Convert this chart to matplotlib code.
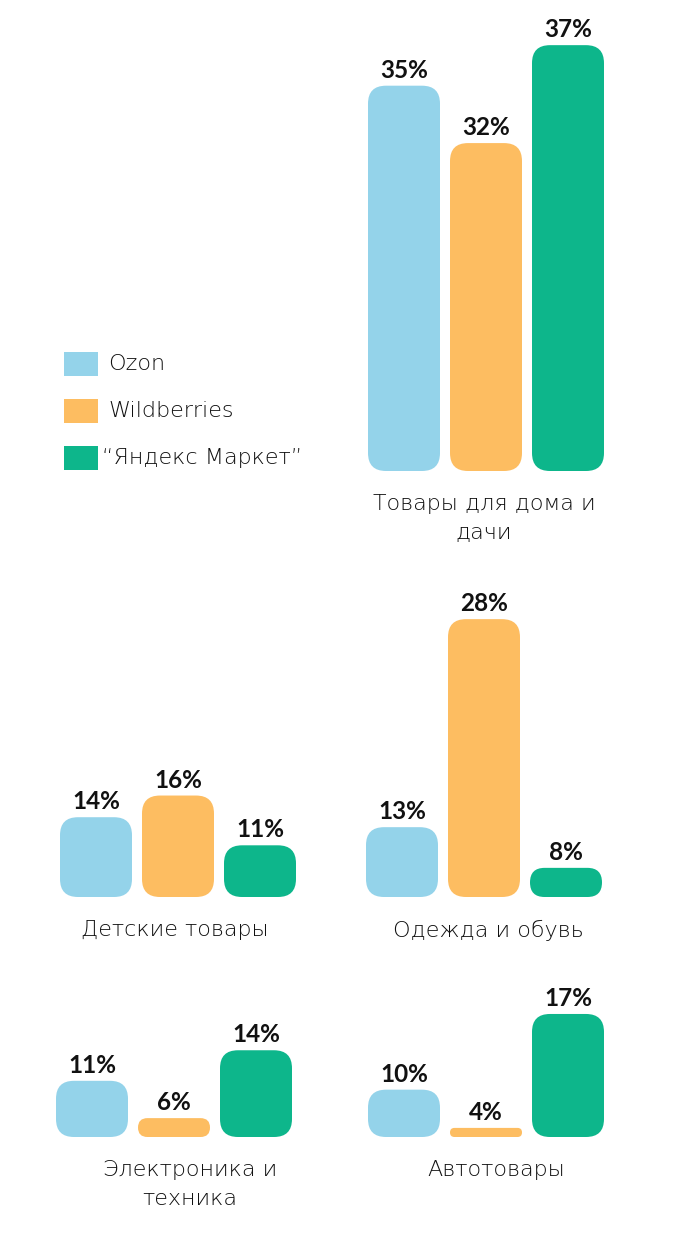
import numpy as np
import matplotlib.pyplot as plt
from matplotlib.patches import FancyBboxPatch, Rectangle

# data
brands = ['Ozon', 'Wildberries', '“Яндекс Маркет”']
colors = ['#94d3ea', '#fdbd61', '#0db68b']

categories = ['Товары для дома и\nдачи', 'Детские товары', 'Одежда и обувь',
              'Электроника и\nтехника', 'Автотовары']
ozon = [35, 14, 13, 11, 10]
wildberries = [32, 16, 28, 6, 4]
yandex = [37, 11, 8, 14, 17]

W, H = 680, 1246
fig = plt.figure(figsize=(W / 100, H / 100), dpi=100)
canvas = fig.add_axes([0, 0, 1, 1])       # pixel coords, y down
canvas.set_xlim(0, W)
canvas.set_ylim(H, 0)
canvas.axis('off')

power = 1.8                                # bars in the original grow faster than linear


def fwd(v):
    return np.power(np.clip(v, 0, None), power)


def inv(v):
    return np.power(np.clip(v, 0, None), 1 / power)


# left edge of first bar, baseline, axes height (px), label x offset
panels = [(368, 471, 490, -7), (60, 897, 528, -8), (366, 897, 528, -1),
          (56, 1137, 574, 11), (368, 1137, 574, 5)]
bw = 72 / 82
label_font = ['Lato', 'DejaVu Sans']
text_font = ['DejaVu Sans']

for k, (left, base, h, dx) in enumerate(panels):
    ax = fig.add_axes([(left - 5) / W, 1 - base / H, 246 / W, h / H])
    ax.set_yscale('function', functions=(fwd, inv))
    ax.set_xlim(-0.5, 2.5)
    ax.set_ylim(0, 40)
    ax.axis('off')
    to_px = canvas.transData.inverted()
    vals = [ozon[k], wildberries[k], yandex[k]]
    for i, v in enumerate(vals):
        p0 = to_px.transform(ax.transData.transform((i - bw / 2, 0)))
        p1 = to_px.transform(ax.transData.transform((i + bw / 2, v)))
        x0, yb = p0
        x1, yt = p1
        bh = yb - yt
        r = min(18, bh / 2)
        canvas.add_patch(FancyBboxPatch((x0, yt), x1 - x0, bh,
                                        boxstyle=f'round,pad=0,rounding_size={r}',
                                        fc=colors[i], ec='none'))
        canvas.text((x0 + x1) / 2, yt - 8, f'{v}%', ha='center', va='baseline',
                    fontsize=17.5, fontweight='bold', color='#111111', family=label_font)
    cx = left + 123 + dx
    canvas.text(cx, base + 23, categories[k], ha='center', va='top', fontsize=16,
                color='#111111', family=text_font, fontweight='light', linespacing=1.55)

# legend
for i, name in enumerate(brands):
    y = 352 + i * 47
    canvas.add_patch(Rectangle((64, y), 34, 24, fc=colors[i], ec='none'))
    canvas.text(102 if i == 2 else 108, y + 12, name, ha='left', va='center', fontsize=16,
                color='#111111', family=text_font, fontweight='light')

fig.savefig('out.png', dpi=100)
